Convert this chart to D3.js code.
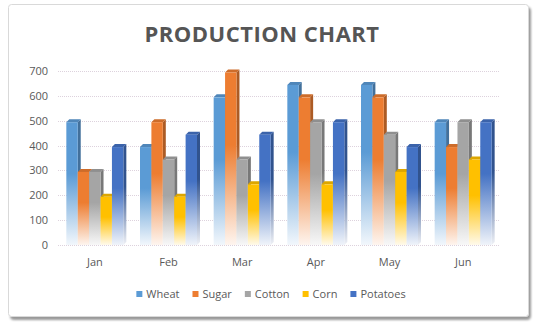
<!DOCTYPE html>
<html>
<head>
<meta charset="utf-8">
<script src="https://cdn.jsdelivr.net/npm/d3@7"></script>
<style>
  html, body { margin: 0; padding: 0; background: #fff; }
  svg { display: block; }
</style>
</head>
<body>
<svg id="chart" width="537" height="330"></svg>
<script>
// Monthly production per crop
const months = ["Jan", "Feb", "Mar", "Apr", "May", "Jun"];
const crops = ["Wheat", "Sugar", "Cotton", "Corn", "Potatoes"];
const wheat    = [500, 400, 600, 650, 650, 500];
const sugar    = [300, 500, 700, 600, 600, 400];
const cotton   = [300, 350, 350, 500, 450, 500];
const corn     = [200, 200, 250, 250, 300, 350];
const potatoes = [400, 450, 450, 500, 400, 500];
const yTicks   = [0, 100, 200, 300, 400, 500, 600, 700];
const title    = "PRODUCTION CHART";

const seriesValues = [wheat, sugar, cotton, corn, potatoes];
const colors = ["#5b9bd5", "#ed7d31", "#a5a5a5", "#ffc000", "#4472c4"];

const svg = d3.select("#chart");
const plot = { left: 58, right: 500, top: 71, bottom: 245 };
const depth = 3;

const defs = svg.append("defs");

// soft drop shadow for the frame
const shadow = defs.append("filter").attr("id", "frameShadow")
  .attr("x", "-5%").attr("y", "-5%").attr("width", "110%").attr("height", "110%");
shadow.append("feDropShadow").attr("dx", 2).attr("dy", 3).attr("stdDeviation", 1.2)
  .attr("flood-color", "#000").attr("flood-opacity", 0.4);

// vertical fades for the front and side faces
colors.forEach((c, i) => {
  const mk = (id, col) => {
    const g = defs.append("linearGradient").attr("id", id)
      .attr("x1", 0).attr("y1", 0).attr("x2", 0).attr("y2", 1);
    g.append("stop").attr("offset", 0).attr("stop-color", col);
    g.append("stop").attr("offset", 0.42).attr("stop-color", col);
    g.append("stop").attr("offset", 1).attr("stop-color", d3.interpolateRgb(col, "#fff")(0.92));
  };
  mk("front" + i, c);
  mk("side" + i, d3.color(c).darker(0.9).formatHex());
});

// frame
svg.append("rect")
  .attr("x", 8.5).attr("y", 4.5).attr("width", 520).attr("height", 312)
  .attr("rx", 3)
  .attr("fill", "#fff").attr("stroke", "#d9d9d9")
  .attr("filter", "url(#frameShadow)");

// title
svg.append("text")
  .attr("x", 262).attr("y", 42)
  .attr("text-anchor", "middle")
  .attr("font-family", "'Open Sans', sans-serif")
  .attr("font-weight", "bold")
  .attr("font-size", 22)
  .attr("letter-spacing", 0.5)
  .attr("fill", "#555555")
  .text(title);

// scales
const y = d3.scaleLinear().domain([0, 700]).range([plot.bottom, plot.top]);
const x0 = d3.scaleBand().domain(months).range([plot.left, plot.right]).paddingInner(0).paddingOuter(0);
const groupW = 57;
const x1 = d3.scaleBand().domain(crops).range([0, groupW]);

// gridlines
svg.append("g")
  .selectAll("line")
  .data(yTicks)
  .join("line")
  .attr("x1", plot.left).attr("x2", plot.right)
  .attr("y1", d => Math.round(y(d)) + 0.5).attr("y2", d => Math.round(y(d)) + 0.5)
  .attr("stroke", "#ddd2dd")
  .attr("stroke-dasharray", "1,1");

// y axis labels
const yAxis = d3.axisLeft(y).tickValues(yTicks).tickSize(0).tickPadding(0);
const yG = svg.append("g").attr("transform", `translate(${plot.left - 10},0)`).call(yAxis);
yG.select(".domain").remove();
yG.selectAll("text")
  .attr("font-family", "'Open Sans', sans-serif")
  .attr("font-size", 11)
  .attr("fill", "#595959");

// x axis labels
const xAxis = d3.axisBottom(x0).tickSize(0).tickPadding(0);
const xG = svg.append("g").attr("transform", `translate(0,${plot.bottom + 13})`).call(xAxis);
xG.select(".domain").remove();
xG.selectAll("text")
  .attr("font-family", "'Open Sans', sans-serif")
  .attr("font-size", 11)
  .attr("fill", "#595959");

// bars: front face, right side and top, drawn left to right so neighbours overlap the sides.
// The box's top face is centred on the value, so the front sits a little below it.
const bw = x1.bandwidth();
const half = depth / 2;
const groups = svg.append("g").selectAll("g")
  .data(months)
  .join("g")
  .attr("transform", d => `translate(${x0(d) + (x0.bandwidth() - groupW) / 2},0)`);

groups.each(function (m, mi) {
  const g = d3.select(this);
  crops.forEach((c, ci) => {
    const v = seriesValues[ci][mi];
    const x = x1(c), top = y(v) + half, bot = y(0);
    const bar = g.append("g");
    // side
    bar.append("path")
      .attr("d", `M${x + bw},${top} L${x + bw + depth},${top - depth} L${x + bw + depth},${bot - depth} L${x + bw},${bot} Z`)
      .attr("fill", `url(#side${ci})`);
    // top
    bar.append("path")
      .attr("d", `M${x},${top} L${x + depth},${top - depth} L${x + bw + depth},${top - depth} L${x + bw},${top} Z`)
      .attr("fill", d3.color(colors[ci]).darker(0.4).formatHex());
    // front
    bar.append("rect")
      .attr("x", x).attr("y", top)
      .attr("width", bw).attr("height", bot - top)
      .attr("fill", `url(#front${ci})`);
  });
});

// legend
const legendItems = crops.map((c, i) => ({ name: c, color: colors[i] }));
const legend = svg.append("g").attr("transform", "translate(0,297)");
const widths = [];
const tmp = svg.append("text").attr("font-family", "'Open Sans', sans-serif").attr("font-size", 11);
legendItems.forEach(d => { tmp.text(d.name); widths.push(tmp.node().getComputedTextLength()); });
tmp.remove();
const gap = 13, sw = 6, swGap = 4;
const total = d3.sum(widths) + legendItems.length * (sw + swGap) + gap * (legendItems.length - 1);
let lx = 271 - total / 2;
legendItems.forEach((d, i) => {
  legend.append("rect")
    .attr("x", lx).attr("y", -6).attr("width", sw).attr("height", sw)
    .attr("fill", d.color);
  legend.append("text")
    .attr("x", lx + sw + swGap).attr("y", -3)
    .attr("dy", "0.32em")
    .attr("font-family", "'Open Sans', sans-serif")
    .attr("font-size", 11)
    .attr("fill", "#595959")
    .text(d.name);
  lx += sw + swGap + widths[i] + gap;
});
</script>
</body>
</html>
